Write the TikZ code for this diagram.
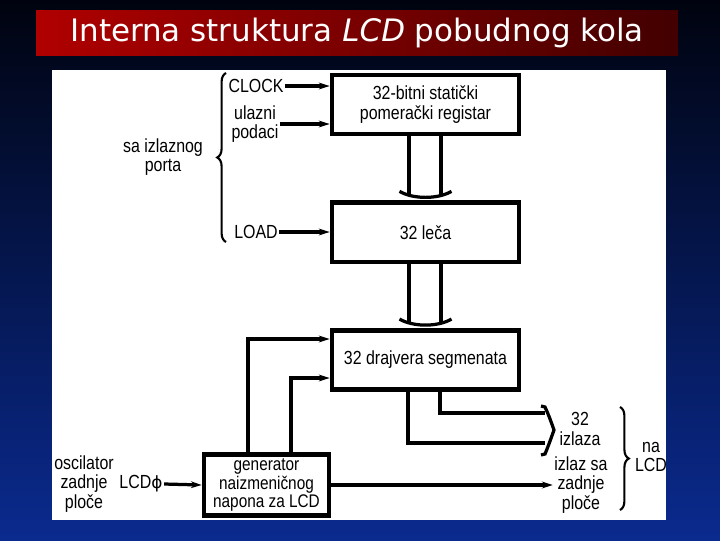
\documentclass[tikz,border=0pt]{standalone}
\usepackage{fontspec}
\setmainfont{Liberation Sans}
\newfontfamily\diagfont{Liberation Sans}[FakeStretch=0.84]
\newfontfamily\titlefont{DejaVu Sans}
\usetikzlibrary{arrows, arrows.meta, positioning, decorations.pathreplacing, calc}
\definecolor{bgtop}{HTML}{00030F}
\definecolor{bgbot}{HTML}{0A2A8E}
\definecolor{bannerleft}{HTML}{B00000}
\definecolor{bannerright}{HTML}{420000}

\begin{document}
\begin{tikzpicture}[
    x=0.025cm, y=-0.025cm,
    every node/.style={font=\diagfont\fontsize{13.5}{13.8}\selectfont, align=center, inner sep=1pt},
    box/.style={draw=black, fill=white, rectangle, line width=3.2pt, minimum width=4.68cm, minimum height=1.48cm, align=center},
    arrow/.style={line width=2.3pt, -{Stealth[length=0.27cm, width=0.17cm]}},
    wire/.style={line width=2.3pt},
    brace/.style={line width=1.5pt, decorate, decoration={brace, amplitude=0.22cm}}
]
% background and title
\useasboundingbox (0,0) rectangle (720,540);
\shade[top color=bgtop, bottom color=bgbot] (0,0) rectangle (720,540);
\shade[left color=bannerleft, right color=bannerright] (36,10) rectangle (678,55);
\node (title) at (357,33) [text=white, font=\titlefont\fontsize{22}{26}\selectfont] {Interna struktura \textit{LCD} pobudnog kola};
\fill[white] (52,70) rectangle (666,520);

% blocks
\node (reg) [box] at (425.5,104.5) {32-bitni statički\\pomerački registar};
\node (lec) [box, below=1.6cm of reg] {32 leča};
\node (drv) [box, below=1.6cm of lec] {32 drajvera segmenata};
\node (gen) [box, minimum width=3.13cm, minimum height=1.52cm, inner sep=0pt, font=\diagfont\fontsize{13}{12.9}\selectfont] at (266.5,485) {generator\\naizmeničnog\\napona za LCD};

% inputs
\node (clk) at (256,86) {CLOCK};
\node (dat) at (255,124) {ulazni\\podaci};
\node (load) at (256,232) {LOAD};
\node (port) at (163,157) {sa izlaznog\\porta};
\draw [brace] (226,242) -- (226,73);
\draw [arrow] (clk.east) -- (reg.west |- clk);
\draw [arrow] (dat.east) -- (reg.west |- dat);
\draw [arrow] (load.east) -- (lec.west |- load);

% buses between blocks
\foreach \top/\bot in {reg/lec, lec/drv} {
    \draw [wire] (\top.south -| 409,0) -- ($(\bot.north -| 409,0)+(0,-5)$);
    \draw [wire] (\top.south -| 441,0) -- ($(\bot.north -| 441,0)+(0,-5)$);
    \draw [wire] ($(\bot.north)+(-26,-9)$) .. controls ($(\bot.north)+(-12,-1)$) and ($(\bot.north)+(12,-1)$) .. ($(\bot.north)+(26,-9)$);
}

% generator to drivers
\coordinate (inA) at (0,339);
\coordinate (inB) at (0,378);
\draw [arrow] (gen.north -| 248,0) |- (drv.west |- inA);
\draw [arrow] (gen.north -| 291,0) |- (drv.west |- inB);

% outputs
\coordinate (outA) at (545,413);
\coordinate (outB) at (545,443);
\coordinate (tip) at (554,430);
\draw [wire] (drv.south -| 440,0) |- (outA);
\draw [wire] (drv.south -| 408,0) |- (outB);
\draw [wire] (541,406) -- (545,407) .. controls (549,416) .. (tip) .. controls (549,444) .. (545,454) -- (541,455);
\node (segs) at (580,429) {32\\izlaza};
\node (bp) at (581,485) {izlaz sa\\zadnje\\ploče};
\draw [arrow] (gen.east) -- (bp.west);
\draw [brace] (620,407) -- (620,510);
\node (lcd) at (651,457) {na\\LCD};

% oscillator
\node (osc) at (84,484) {oscilator\\zadnje\\ploče};
\node (phi) at (141,484) {LCD{\titlefont\fontsize{12}{12}\selectfont ϕ}};
\draw [arrow] (phi.east) -- (gen.west);

\end{tikzpicture}
\end{document}
